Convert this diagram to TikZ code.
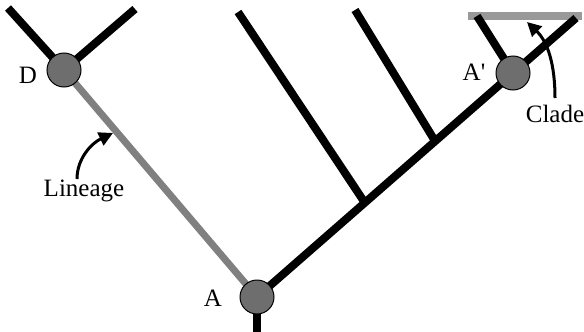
\documentclass[tikz,border=0pt]{standalone}
\usepackage{fontspec}
\newfontfamily\labelfont{Liberation Serif}
\usetikzlibrary{arrows.meta}
\begin{document}
\begin{tikzpicture}[x=1pt,y=-1pt,
  branch/.style={line width=8pt,black},
  lineage/.style={line width=7pt,color=black!50},
  nd/.style={circle,draw=black,line width=1pt,fill=black!57,minimum size=34pt,inner sep=0pt},
  lbl/.style={font=\labelfont\fontsize{25}{27}\selectfont,inner sep=0pt},
  pointer/.style={line width=3pt,-{Triangle[length=14pt,width=14pt]}}]
\useasboundingbox (0,0) rectangle (584,332);
% coordinates
\coordinate (stem) at (257,332);
\coordinate (tip1) at (238,12);
\coordinate (tip2) at (355,10);
\coordinate (j1) at (365,203);
\coordinate (j2) at (435,141);
\coordinate (tipR) at (576,18);
\coordinate (tipAL) at (477,16);
\coordinate (tipDL) at (8,8);
\coordinate (tipDR) at (135,9);
% clade bar
\draw[line width=8pt,color=black!40] (468,16) coordinate (cb1) -- (582,16) coordinate (cb2);
% tree
\coordinate (Ac) at (257,297);
\coordinate (Dc) at (64,70);
\coordinate (Apc) at (513,73);
\draw[branch] (Ac) -- (stem);
\draw[branch] (Ac) -- (tipR);
\draw[branch] (j1) -- (tip1);
\draw[branch] (j2) -- (tip2);
\draw[branch] (Apc) -- (tipAL);
\draw[branch] (Dc) -- (tipDL);
\draw[branch] (Dc) -- (tipDR);
\draw[lineage] (Dc) -- (Ac);
\node[nd] (A) at (Ac) {};
\node[nd] (D) at (Dc) {};
\node[nd] (Ap) at (Apc) {};
% labels
\node[lbl] (lA) at (213,298) {A};
\node[lbl] (lD) at (28,75) {D};
\node[lbl] (lAp) at (474,72) {A'};
\node[lbl] (lLin) at (84,191) {Lineage};
\node[lbl] (lClade) at (555,114) {Clade};
% pointers
\coordinate (linStart) at (77,179);
\coordinate (linTip) at (113,133);
\coordinate (cladeStart) at (555,98);
\coordinate (cladeTip) at (527,22);
\draw[pointer] (linStart) .. controls (77,158) and (92,143) .. (linTip);
\draw[pointer] (cladeStart) .. controls (555,65) and (548,42) .. (cladeTip);
\end{tikzpicture}
\end{document}
